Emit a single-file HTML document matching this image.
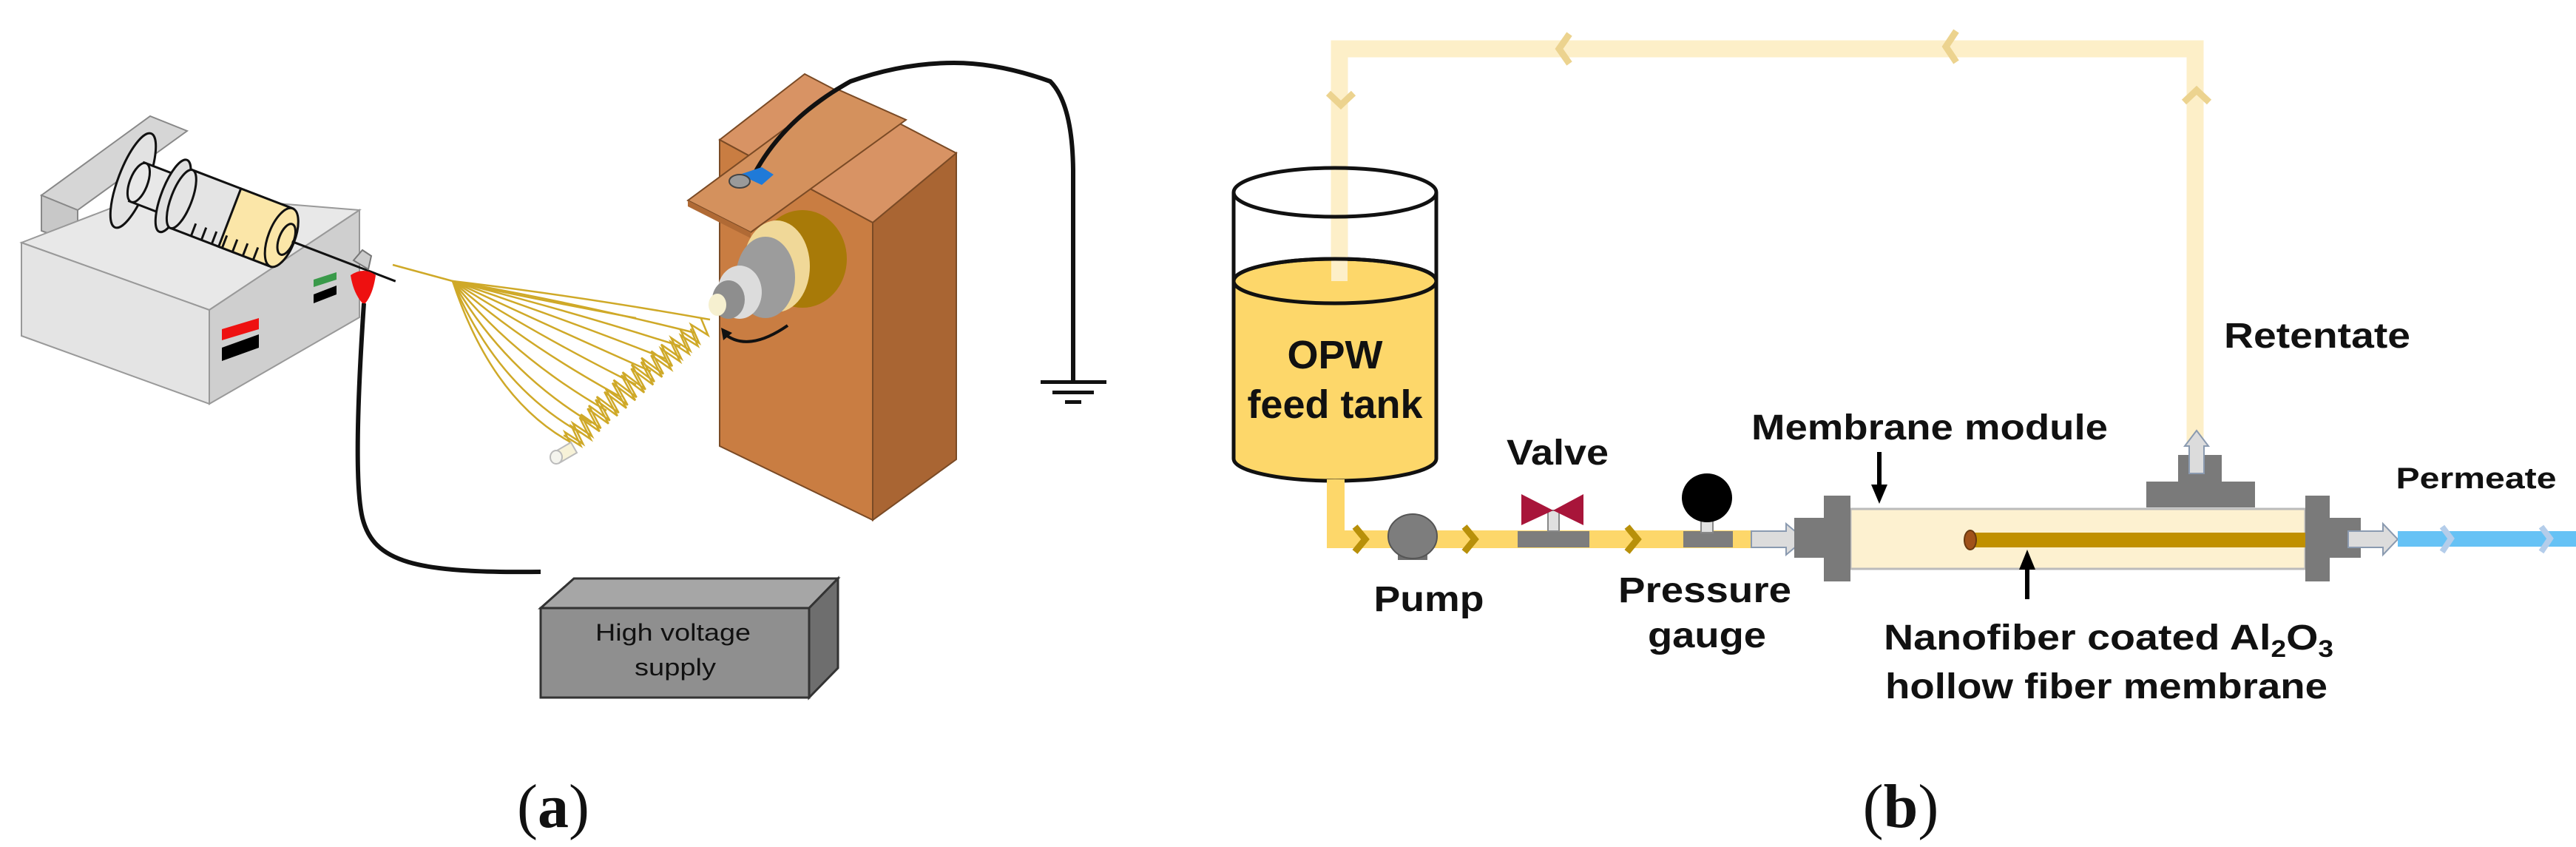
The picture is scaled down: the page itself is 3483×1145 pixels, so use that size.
<!DOCTYPE html>
<html><head><meta charset="utf-8"><style>
html,body{margin:0;padding:0;background:#fff}
svg{display:block}
.lb{font-family:"Liberation Sans",Arial,sans-serif;font-weight:bold;fill:#111}
</style></head><body>
<svg width="3483" height="1145" viewBox="0 0 3483 1145" xmlns="http://www.w3.org/2000/svg">
<!-- ========== (a) ========== -->
<polygon points="56,264 203,157 253,177 105,284" fill="#d6d6d6" stroke="#888" stroke-width="2"/>
<polygon points="56,264 105,284 105,330 56,312" fill="#c8c8c8" stroke="#888" stroke-width="2"/>
<polygon points="29,328 203,261 486,284 283,419" fill="#e8e8e8" stroke="#999" stroke-width="2"/>
<polygon points="29,328 283,419 283,546 29,454" fill="#e4e4e4" stroke="#999" stroke-width="2"/>
<polygon points="283,419 486,284 486,429 283,546" fill="#cfcfcf" stroke="#999" stroke-width="2"/>
<polygon points="300,445 350,430 350,445 300,460" fill="#ee1111"/>
<polygon points="300,470 350,452 350,470 300,488" fill="#000"/>
<polygon points="424,378 455,368 455,378 424,388" fill="#3a9a4a"/>
<polygon points="424,398 455,386 455,398 424,410" fill="#000"/>
<g transform="translate(180,244) rotate(21)" stroke="#111" stroke-width="3">
<ellipse cx="0" cy="0" rx="20" ry="68" fill="#e2e2e2"/>
<rect x="5" y="-28" width="55" height="56" fill="#e8e8e8"/>
<ellipse cx="8" cy="0" rx="12" ry="28" fill="#e8e8e8"/>
<ellipse cx="58" cy="0" rx="16" ry="52" fill="#e0e0e0"/>
<rect x="70" y="-42" width="145" height="84" fill="#e4e4e4"/>
<rect x="140" y="-42" width="75" height="84" fill="#fbe6a8"/>
<ellipse cx="70" cy="0" rx="14" ry="42" fill="#e4e4e4"/>
<ellipse cx="215" cy="0" rx="18" ry="42" fill="#fbe6a8"/>
<ellipse cx="222" cy="0" rx="10" ry="22" fill="#fbe6a8"/>
<path d="M100,42 v-18 M115,42 v-18 M130,42 v-18 M145,42 v-18 M160,42 v-18 M175,42 v-18 M190,42 v-18" />
<line x1="230" y1="0" x2="380" y2="0" stroke-width="3"/>
</g>
<path d="M478,352 l12,-14 l12,8 l-4,18 z" fill="#ccc" stroke="#777" stroke-width="2"/>
<path d="M474,372 Q492,360 508,372 Q504,400 492,412 Q478,398 474,372 z" fill="#ee1010"/>
<path d="M492,410 C486,500 478,650 490,700 C505,760 560,775 731,773" fill="none" stroke="#111" stroke-width="6"/>
<!-- fibers -->
<g fill="none" stroke="#cfa928" stroke-width="2.5">
<path d="M531,358 L612,380"/>
<path d="M612,380 Q780,400 960,432"/>
<path d="M612,380 Q780,410 940,450"/>
<path d="M612,380 Q770,420 920,468"/>
<path d="M612,380 Q760,430 900,485"/>
<path d="M612,380 Q740,440 880,502"/>
<path d="M612,380 Q720,450 860,520"/>
<path d="M612,380 Q700,460 840,537"/>
<path d="M612,380 Q690,480 820,555"/>
<path d="M612,380 Q680,500 800,572"/>
<path d="M612,380 Q670,520 785,585"/>
<path d="M612,380 Q665,540 772,598"/>
<path d="M612,380 Q700,400 860,430"/>
</g>
<g transform="translate(767,600) rotate(-41)" fill="none" stroke="#cfa928" stroke-width="2.5">
<path d="M0,14 l8,-28 l8,28 l8,-30 l8,30 l8,-32 l8,32 l8,-34 l8,34 l8,-36 l8,36 l8,-36 l8,36 l8,-38 l8,38 l8,-38 l8,38 l8,-38 l8,38 l8,-36 l8,36 l8,-34 l8,34 l8,-32 l8,32 l8,-30 l8,30 l8,-28 l8,28 l8,-26 l8,26 l8,-24"/>
<path d="M4,-12 l8,26 l8,-28 l8,30 l8,-32 l8,32 l8,-34 l8,34 l8,-36 l8,36 l8,-36 l8,36 l8,-38 l8,38 l8,-38 l8,38 l8,-36 l8,36 l8,-34 l8,34 l8,-32 l8,32 l8,-30 l8,30 l8,-28 l8,28 l8,-26 l8,26 l8,-24"/>
</g>
<path d="M748,612 L772,598 L780,612 L756,626 Z" fill="#f7f2d8" stroke="#bbb" stroke-width="2"/>
<ellipse cx="752" cy="618" rx="8" ry="9" fill="#f4f4ee" stroke="#bbb" stroke-width="2"/>
<!-- wooden block -->
<polygon points="973,189 1088,100 1293,207 1180,301" fill="#d89364" stroke="#7a4a25" stroke-width="2"/>
<polygon points="973,189 1180,301 1180,703 973,603" fill="#c97d42" stroke="#7a4a25" stroke-width="2"/>
<polygon points="1180,301 1293,207 1293,621 1180,703" fill="#a96533" stroke="#7a4a25" stroke-width="2"/>
<polygon points="930,271 1133,121 1225,162 1015,314" fill="#d4915d" stroke="#7a4a25" stroke-width="2"/>
<polygon points="930,271 1015,314 1015,322 930,279" fill="#b06a35"/>
<ellipse cx="1085" cy="350" rx="60" ry="66" fill="#a87a08"/>
<ellipse cx="1050" cy="360" rx="45" ry="62" fill="#f0d898"/>
<ellipse cx="1035" cy="375" rx="40" ry="55" fill="#9c9c9c"/>
<ellipse cx="1000" cy="395" rx="30" ry="36" fill="#dcdcdc"/>
<ellipse cx="985" cy="405" rx="22" ry="26" fill="#8e8e8e"/>
<ellipse cx="970" cy="412" rx="12" ry="15" fill="#f6f0d0"/>
<path d="M978,450 Q1010,478 1065,440" fill="none" stroke="#111" stroke-width="4"/>
<polygon points="975,443 990,450 978,460" fill="#111"/>
<path d="M1020,235 Q1060,160 1150,110 Q1220,85 1290,85 Q1350,85 1420,110 Q1450,140 1451,230 L1451,516" fill="none" stroke="#111" stroke-width="6"/>
<path d="M1000,236 L1030,226 L1046,236 L1030,250 Z" fill="#1f7ad8"/>
<ellipse cx="1000" cy="245" rx="14" ry="9" fill="#9a9a9a" stroke="#444" stroke-width="2"/>
<rect x="1407" y="514" width="89" height="5" fill="#111"/>
<rect x="1423" y="528" width="56" height="5" fill="#111"/>
<rect x="1440" y="541" width="22" height="5" fill="#111"/>
<polygon points="731,822 776,782 1133,782 1094,822" fill="#a6a6a6" stroke="#333" stroke-width="3"/>
<polygon points="1094,822 1133,782 1133,903 1094,943" fill="#6e6e6e" stroke="#333" stroke-width="3"/>
<rect x="731" y="822" width="363" height="121" fill="#8f8f8f" stroke="#333" stroke-width="3"/>
<text x="910" y="866" text-anchor="middle" font-family="Liberation Sans,sans-serif" font-size="32" fill="#111" textLength="210" lengthAdjust="spacingAndGlyphs">High voltage</text>
<text x="913" y="913" text-anchor="middle" font-family="Liberation Sans,sans-serif" font-size="32" fill="#111" textLength="110" lengthAdjust="spacingAndGlyphs">supply</text>
<text x="748" y="1118" text-anchor="middle" font-family="Liberation Serif,serif" font-size="84" fill="#111">(<tspan font-weight="bold">a</tspan>)</text>

<!-- ========== (b) ========== -->
<g fill="none" stroke="#fdefc8" stroke-width="23">
<path d="M1811,360 L1811,66 L2968,66 L2968,600"/>
</g>
<g fill="none" stroke="#ecd38f" stroke-width="9">
<path d="M2122,46 L2108,66 L2122,86"/>
<path d="M2645,42 L2631,63 L2645,84"/>
<path d="M1796,126 L1813,142 L1830,126"/>
<path d="M2953,138 L2970,122 L2987,138"/>
</g>
<path d="M1668,380 L1668,620 A137,30 0 0 0 1942,620 L1942,380 A137,30 0 0 0 1668,380 Z" fill="#fdd76a" stroke="#111" stroke-width="5"/>
<rect x="1800" y="300" width="22" height="80" fill="#fdefc8"/>
<ellipse cx="1805" cy="380" rx="137" ry="30" fill="none" stroke="#111" stroke-width="5"/>
<path d="M1668,260 L1668,380 M1942,260 L1942,380" stroke="#111" stroke-width="5"/>
<ellipse cx="1805" cy="260" rx="137" ry="33" fill="none" stroke="#111" stroke-width="5"/>
<text x="1805" y="498" text-anchor="middle" class="lb" font-size="54">OPW</text>
<text x="1805" y="565" text-anchor="middle" class="lb" font-size="54">feed tank</text>
<path d="M1806,648 L1806,729 L2380,729" fill="none" stroke="#fdd76a" stroke-width="24"/>
<g fill="none" stroke="#b8900a" stroke-width="9">
<path d="M1832,712 L1846,729 L1832,746"/>
<path d="M1980,712 L1994,729 L1980,746"/>
<path d="M2200,712 L2214,729 L2200,746"/>
</g>
<rect x="1890" y="745" width="40" height="12" fill="#6e6e6e"/>
<ellipse cx="1910" cy="725" rx="33" ry="30" fill="#7d7d7d" stroke="#555" stroke-width="2"/>
<rect x="2052" y="718" width="97" height="22" fill="#7d7d7d"/>
<rect x="2093" y="690" width="15" height="28" fill="#e0e0e0" stroke="#888" stroke-width="2"/>
<polygon points="2057,668 2100,690 2057,710" fill="#a8153a"/>
<polygon points="2141,668 2100,690 2141,710" fill="#a8153a"/>
<rect x="2276" y="718" width="67" height="22" fill="#7d7d7d"/>
<rect x="2300" y="700" width="16" height="20" fill="#e0e0e0" stroke="#888" stroke-width="2"/>
<ellipse cx="2308" cy="673" rx="34" ry="33" fill="#000"/>
<polygon points="2368,718 2415,718 2415,708 2440,729 2415,750 2415,740 2368,740" fill="#dcdcdc" stroke="#8a9ab0" stroke-width="2"/>
<rect x="2426" y="700" width="42" height="54" fill="#7a7a7a"/>
<rect x="2502" y="688" width="615" height="81" fill="#fdf1d0" stroke="#bbb" stroke-width="3"/>
<rect x="2466" y="670" width="36" height="116" fill="#7a7a7a"/>
<rect x="3117" y="670" width="33" height="116" fill="#7a7a7a"/>
<rect x="3150" y="700" width="42" height="54" fill="#7a7a7a"/>
<rect x="2662" y="720" width="455" height="20" fill="#c09000"/>
<ellipse cx="2664" cy="730" rx="8" ry="13" fill="#a0521a" stroke="#6a3a10" stroke-width="2"/>
<rect x="2902" y="651" width="147" height="35" fill="#7a7a7a"/>
<rect x="2945" y="615" width="59" height="37" fill="#7a7a7a"/>
<polygon points="2960,640 2960,603 2954,603 2970,582 2986,603 2980,603 2980,640" fill="#dcdcdc" stroke="#8a9ab0" stroke-width="2"/>
<polygon points="3175,718 3222,718 3222,708 3242,729 3222,750 3222,740 3175,740" fill="#dcdcdc" stroke="#8a9ab0" stroke-width="2"/>
<rect x="3242" y="718" width="241" height="21" fill="#66c2f5"/>
<g fill="none" stroke="#b4cdea" stroke-width="8">
<path d="M3302,712 L3314,728 L3302,746"/>
<path d="M3436,712 L3448,728 L3436,746"/>
</g>
<line x1="2541" y1="611" x2="2541" y2="660" stroke="#000" stroke-width="6"/>
<polygon points="2530,655 2552,655 2541,681" fill="#000"/>
<line x1="2741" y1="768" x2="2741" y2="810" stroke="#000" stroke-width="6"/>
<polygon points="2730,770 2752,770 2741,743" fill="#000"/>
<text x="3133" y="470" text-anchor="middle" class="lb" font-size="48" textLength="252" lengthAdjust="spacingAndGlyphs">Retentate</text>
<text x="2609" y="594" text-anchor="middle" class="lb" font-size="48" textLength="482" lengthAdjust="spacingAndGlyphs">Membrane module</text>
<text x="2106" y="628" text-anchor="middle" class="lb" font-size="48" textLength="138" lengthAdjust="spacingAndGlyphs">Valve</text>
<text x="3348" y="660" text-anchor="middle" class="lb" font-size="40" textLength="217" lengthAdjust="spacingAndGlyphs">Permeate</text>
<text x="1932" y="826" text-anchor="middle" class="lb" font-size="48" textLength="149" lengthAdjust="spacingAndGlyphs">Pump</text>
<text x="2305" y="814" text-anchor="middle" class="lb" font-size="48" textLength="234" lengthAdjust="spacingAndGlyphs">Pressure</text>
<text x="2308" y="875" text-anchor="middle" class="lb" font-size="48" textLength="160" lengthAdjust="spacingAndGlyphs">gauge</text>
<text x="2547" y="878" class="lb" font-size="48" textLength="608" lengthAdjust="spacingAndGlyphs">Nanofiber coated Al<tspan font-size="32" dy="10">2</tspan><tspan dy="-10">O</tspan><tspan font-size="32" dy="10">3</tspan></text>
<text x="2848" y="944" text-anchor="middle" class="lb" font-size="48" textLength="598" lengthAdjust="spacingAndGlyphs">hollow fiber membrane</text>
<text x="2570" y="1118" text-anchor="middle" font-family="Liberation Serif,serif" font-size="84" fill="#111">(<tspan font-weight="bold">b</tspan>)</text>
</svg>
</body></html>
